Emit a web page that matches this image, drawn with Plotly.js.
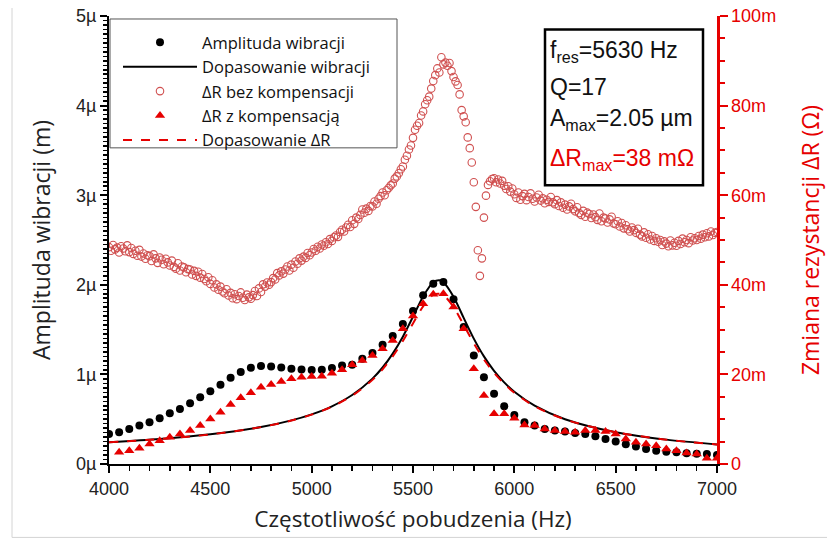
<!DOCTYPE html>
<html>
<head>
<meta charset="utf-8">
<script src="https://cdn.plot.ly/plotly-3.0.1.min.js"></script>
<style>html,body{margin:0;padding:0;background:#fff;}#chart{width:827px;height:543px;}</style>
</head>
<body>
<div id="chart"></div>
<script>
// ---------- DATA ----------
// Vibration amplitude (µm), every 50 Hz from 4000 Hz to 7000 Hz
const ampStartHz = 4000, ampStepHz = 50;
const amplitude = [0.336,0.354,0.391,0.429,0.466,0.511,0.567,0.615,0.679,0.746,
  0.813,0.884,0.962,1.026,1.074,1.093,1.089,1.078,1.063,1.055,
  1.048,1.052,1.071,1.100,1.107,1.174,1.238,1.331,1.428,1.562,
  1.708,1.883,2.013,2.032,1.838,1.529,1.211,0.969,0.783,0.645,
  0.548,0.466,0.429,0.391,0.373,0.362,0.347,0.336,0.310,0.280,
  0.250,0.220,0.194,0.168,0.149,0.138,0.131,0.120,0.115,0.112,0.101];

// ΔR with compensation (mΩ), every 50 Hz from 4050 Hz to 7000 Hz
const drCompStartHz = 4050, drCompStepHz = 50;
const drComp = [2.62,2.98,3.51,4.47,5.21,5.97,6.71,7.45,8.57,10.07,
  11.56,13.27,14.77,15.88,17.15,17.73,18.40,19.01,19.39,19.52,
  19.61,20.28,21.03,22.15,23.11,24.23,25.73,27.59,30.20,33.04,
  35.79,37.88,38.03,35.05,30.20,21.25,15.28,11.19,11.19,10.22,
  8.72,8.57,7.83,7.45,7.23,7.08,7.45,7.45,7.23,6.71,
  5.59,4.85,4.47,4.10,3.36,2.98,2.46,2.24,1.27,1.27];

// ΔR without compensation (mΩ), every 10 Hz from 4000 Hz to 7000 Hz
const drRawStartHz = 4000, drRawStepHz = 10;
const drRaw = [
  48.4,47.6,48.9,47.9,48.3,47.2,48.6,48.1,47.5,48.8,
  47.3,48.2,46.9,47.6,46.5,47.8,46.3,47.0,45.8,46.6,
  46.4,45.3,46.8,45.9,44.9,46.1,45.6,44.6,45.8,45.0,
  44.3,45.4,44.0,43.6,44.8,43.2,44.1,43.9,42.8,43.5,
  43.4,42.3,43.1,42.0,42.9,41.6,42.4,41.3,40.8,41.7,
  40.2,41.0,39.4,40.1,38.9,39.6,38.5,38.1,39.0,37.6,
  38.2,37.0,37.9,36.8,37.5,38.3,37.1,36.6,37.8,37.2,
  36.9,37.7,38.6,37.5,39.2,38.4,40.1,39.6,40.5,40.0,
  40.6,41.5,41.2,42.6,42.1,43.0,42.5,43.4,44.1,43.2,
  44.5,43.8,45.2,44.7,45.9,45.4,46.3,46.0,47.1,46.6,
  47.2,48.0,47.6,48.5,48.1,49.0,48.7,49.5,49.1,50.2,
  49.8,50.6,51.0,50.7,51.8,52.3,51.9,52.8,53.4,52.9,
  54.4,53.6,55.0,54.7,55.6,56.8,56.1,57.0,56.5,57.6,
  57.5,58.6,58.1,59.2,59.8,60.6,60.0,61.1,61.6,62.2,
  62.6,63.7,64.2,64.9,65.8,66.4,67.9,68.8,70.2,71.1,
  72.8,74.6,75.5,76.1,77.8,78.7,80.3,81.2,82.0,83.8,
  85.5,86.8,88.3,87.4,90.8,89.2,89.6,88.9,89.5,87.7,
  86.4,85.4,84.6,82.5,79.0,77.6,76.3,72.9,70.5,67.3,
  62.9,57.4,47.7,42.0,45.9,55.0,59.9,62.3,63.1,63.6,
  63.8,62.9,63.5,62.6,63.2,62.1,61.4,62.0,60.8,61.5,
  60.2,59.4,60.6,59.0,59.8,60.3,58.9,59.6,60.4,59.2,
  58.6,59.5,60.1,58.8,59.3,58.2,59.0,58.5,59.6,58.4,
  58.0,58.9,57.6,58.4,57.2,57.9,56.8,57.5,58.1,56.9,
  56.4,57.3,56.0,55.6,56.5,55.2,56.1,55.8,54.9,55.7,
  55.1,54.5,55.9,54.2,55.0,54.8,53.9,54.6,55.2,53.7,
  53.5,54.2,53.0,53.8,52.6,53.3,52.4,51.9,52.8,52.2,
  51.6,52.5,51.2,50.8,51.7,50.5,51.3,50.1,50.9,49.8,
  50.4,49.6,50.0,48.9,49.7,49.2,48.6,49.9,48.8,49.4,
  48.7,49.8,49.1,50.3,49.5,50.0,49.3,50.6,49.9,50.4,
  50.0,50.9,50.3,51.2,50.6,51.5,50.8,51.9,51.1,51.6,
  51.8];

// Fitted curves
const fitFreq = [4000,4250,4500,4750,4900,5000,5100,5200,5300,5350,5400,5450,5500,5550,5600,5630,5650,5700,5750,5800,5850,5900,5950,6000,6100,6250,6500,6750,7000];
const fitAmp  = [0.243,0.279,0.331,0.412,0.487,0.554,0.644,0.770,0.953,1.077,1.232,1.421,1.643,1.870,2.028,2.050,2.028,1.867,1.631,1.399,1.201,1.040,0.911,0.806,0.651,0.500,0.355,0.272,0.219];
const fitDR   = [4.85,5.57,6.61,8.23,9.70,11.03,12.80,15.25,18.78,21.13,24.01,27.46,31.38,35.2,37.78,38.0,37.74,35.06,31.05,26.95,23.34,20.35,17.91,15.91,12.90,9.94,7.08,5.43,4.37];

// Tick labels
const yTickVals = [0,1,2,3,4,5];
const yTickText = ['0µ','1µ','2µ','3µ','4µ','5µ'];
const y2TickVals = [0,20,40,60,80,100];
const y2TickText = ['0','20m','40m','60m','80m','100m'];

const seriesNames = ['Amplituda wibracji','Dopasowanie wibracji','ΔR bez kompensacji','ΔR z kompensacją','Dopasowanie ΔR'];
const infoLines = ['f<sub>res</sub>=5630 Hz','Q=17','A<sub>max</sub>=2.05 µm','ΔR<sub>max</sub>=38 mΩ'];

// ---------- LAYOUT HELPERS ----------
const W = 827, H = 543;
const PL = 109, PR = 717, PT = 16, PB = 464.5;
const px = x => (x - PL) / (PR - PL);
const py = y => (PB - y) / (PB - PT);

const RED = '#e60000';
const tickFont = {family:'Liberation Sans, Arial, sans-serif', size:18, color:'#222'};
const titleFont = {family:'Open Sans, sans-serif', size:23, color:'#222'};

const traces = [
  {type:'scatter', mode:'markers', name:seriesNames[0], x0:ampStartHz, dx:ampStepHz, y:amplitude,
   xaxis:'x', yaxis:'y', marker:{color:'#000', size:8, symbol:'circle'}},
  {type:'scatter', mode:'lines', name:seriesNames[1], x:fitFreq, y:fitAmp,
   xaxis:'x', yaxis:'y', line:{color:'#000', width:2, shape:'spline', smoothing:0.8}},
  {type:'scatter', mode:'markers', name:seriesNames[2], x0:drRawStartHz, dx:drRawStepHz, y:drRaw,
   xaxis:'x', yaxis:'y2', marker:{symbol:'circle-open', size:7.5, color:'#d05050', line:{width:1.1, color:'#d05050'}}},
  {type:'scatter', mode:'markers', name:seriesNames[3], x0:drCompStartHz, dx:drCompStepHz, y:drComp,
   xaxis:'x', yaxis:'y2', marker:{symbol:'triangle-up', size:9, color:RED}},
  {type:'scatter', mode:'lines', name:seriesNames[4], x:fitFreq, y:fitDR,
   xaxis:'x', yaxis:'y2', line:{color:RED, width:2, dash:'dash', shape:'spline', smoothing:0.8}}
];

const annotations = [
  {text:infoLines[0], y:py(52)},
  {text:infoLines[1], y:py(87)},
  {text:infoLines[2], y:py(120)},
  {text:infoLines[3], y:py(160), color:RED}
].map(a => ({xref:'paper', yref:'paper', x:px(548), y:a.y, xanchor:'left', yanchor:'middle',
  showarrow:false, text:a.text, font:{family:'Liberation Sans, Arial, sans-serif', size:23, color:a.color || '#111'}}));

const shapes = [
  // info box
  {type:'rect', xref:'paper', yref:'paper', x0:px(545), x1:px(703), y0:py(29.5), y1:py(185.5),
   line:{color:'#000', width:2.5}, fillcolor:'rgba(0,0,0,0)'},
  // legend box
  {type:'rect', xref:'paper', yref:'paper', x0:px(110), x1:px(397), y0:py(19), y1:py(148),
   line:{color:'#555', width:1}, fillcolor:'rgba(0,0,0,0)'},
  // faint outer frame lines
  {type:'line', xref:'paper', yref:'paper', x0:px(12), x1:px(12), y0:py(8), y1:py(538),
   line:{color:'#d4d4d4', width:1}},
  {type:'line', xref:'paper', yref:'paper', x0:px(12), x1:px(827), y0:py(538), y1:py(538),
   line:{color:'#d4d4d4', width:1}}
];

const layout = {
  width:W, height:H,
  margin:{l:PL, r:W-PR, t:PT, b:H-PB, pad:0},
  paper_bgcolor:'#fff', plot_bgcolor:'#fff',
  showlegend:true,
  legend:{x:px(118), y:py(25), xanchor:'left', yanchor:'top', bgcolor:'rgba(0,0,0,0)',
    borderwidth:0, itemwidth:74, font:{family:'Open Sans, sans-serif', size:16.5, color:'#111'}, tracegroupgap:0},
  xaxis:{range:[4000,7000], tickmode:'linear', tick0:4000, dtick:500,
    ticks:'outside', ticklen:7, tickwidth:2, tickcolor:'#000',
    showline:true, linewidth:2, linecolor:'#000', showgrid:false, zeroline:false,
    minor:{tickmode:'linear', tick0:4000, dtick:100, ticks:'outside', ticklen:5, tickwidth:1.5, tickcolor:'#000'},
    tickfont:tickFont,
    title:{text:'Częstotliwość pobudzenia (Hz)', font:Object.assign({}, titleFont, {size:22.5}), standoff:14}},
  xaxis2:{range:[4000,7000], overlaying:'x', side:'top', anchor:'y', tickmode:'linear', tick0:4000, dtick:500,
    ticks:'inside', ticklen:8, tickwidth:2, tickcolor:'#000', showticklabels:false,
    showline:true, linewidth:2, linecolor:'#000', showgrid:false, zeroline:false,
    minor:{tickmode:'linear', tick0:4000, dtick:100, ticks:'inside', ticklen:5, tickwidth:1.5, tickcolor:'#000'}},
  yaxis:{range:[0,5], tickmode:'array', tickvals:yTickVals, ticktext:yTickText,
    ticks:'outside', ticklen:7, tickwidth:2, tickcolor:'#000',
    showline:true, linewidth:2, linecolor:'#000', showgrid:false, zeroline:false,
    minor:{tickmode:'linear', tick0:0, dtick:0.05, ticks:'outside', ticklen:4, tickwidth:1.5, tickcolor:'#000'},
    tickfont:tickFont,
    title:{text:'Amplituda wibracji (m)', font:titleFont, standoff:19}},
  yaxis2:{range:[0,100], overlaying:'y', side:'right', anchor:'x', tickmode:'array', tickvals:y2TickVals, ticktext:y2TickText,
    ticks:'outside', ticklen:8, tickwidth:2, tickcolor:RED,
    showline:true, linewidth:2.5, linecolor:RED, showgrid:false, zeroline:false,
    minor:{tickmode:'linear', tick0:0, dtick:5, ticks:'outside', ticklen:5, tickwidth:2, tickcolor:RED},
    tickfont:Object.assign({}, tickFont, {color:RED}),
    title:{text:'Zmiana rezystancji ΔR (Ω)', font:Object.assign({}, titleFont, {color:RED}), standoff:28}},
  annotations:annotations,
  shapes:shapes
};

Plotly.newPlot('chart', traces, layout, {displayModeBar:false, staticPlot:true});
</script>
</body>
</html>
